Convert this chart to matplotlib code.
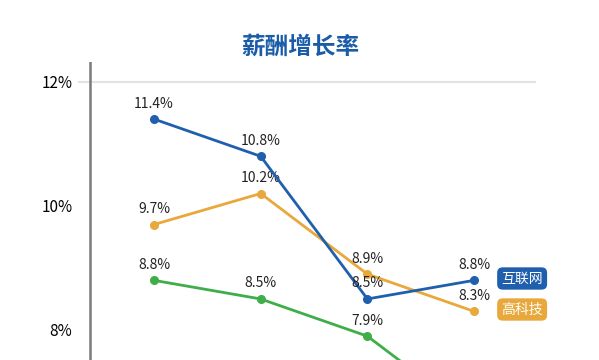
import matplotlib.pyplot as plt

plt.rcParams['font.family'] = ['Noto Sans CJK SC', 'DejaVu Sans']

# data
periods = [0, 1, 2, 3]
internet = [11.4, 10.8, 8.5, 8.8]
hitech = [9.7, 10.2, 8.9, 8.3]
other = [8.8, 8.5, 7.9, 6.6]   # last point is below the visible area
yticks = [8, 10, 12]

c_blue = '#1f5fad'
c_orange = '#e9a83b'
c_green = '#3fae49'

fig = plt.figure(figsize=(5.99, 3.6), dpi=100)
ax = fig.add_axes([78 / 599, 0, (536 - 78) / 599, (360 - 62) / 360])

ymin, ymax = 7.516, 12.32
ax.set_xlim(-0.712, 3.58)
ax.set_ylim(ymin, ymax)

# only the 12% gridline is drawn
ax.axhline(12, color='#e3e3e3', lw=1.5, zorder=0)
ax.axvline(-0.6, color='#7a7a7a', lw=1.8, zorder=1)

for s in ax.spines.values():
    s.set_visible(False)
ax.set_xticks([])
ax.set_yticks(yticks)
ax.set_yticklabels([f'{v}%' for v in yticks], fontsize=11)
ax.tick_params(axis='y', length=0, pad=4)

for vals, col in [(other, c_green), (hitech, c_orange), (internet, c_blue)]:
    ax.plot(periods, vals, color=col, lw=2, marker='o', ms=5.5, zorder=3)
    for x, v in zip(periods, vals):
        if v + 0.27 < ymin:
            continue
        ax.text(x, v + 0.25, f'{v}%', ha='center', va='center', fontsize=10,
                color='#222222', clip_on=True)

# series tags at the end of the lines
for name, v, col in [('互联网', internet[-1], c_blue), ('高科技', hitech[-1], c_orange)]:
    ax.text(3.45, v + 0.03, name, ha='center', va='center', fontsize=10, color='white',
            clip_on=False,
            bbox=dict(boxstyle='round,pad=0.3,rounding_size=0.4', fc=col, ec='none'))

fig.text(300 / 599, 1 - 47 / 360, '薪酬增长率', ha='center', va='center',
         fontsize=17, fontweight='bold', color='#1a5ca8')

fig.savefig('out.png', dpi=100, facecolor='white')
